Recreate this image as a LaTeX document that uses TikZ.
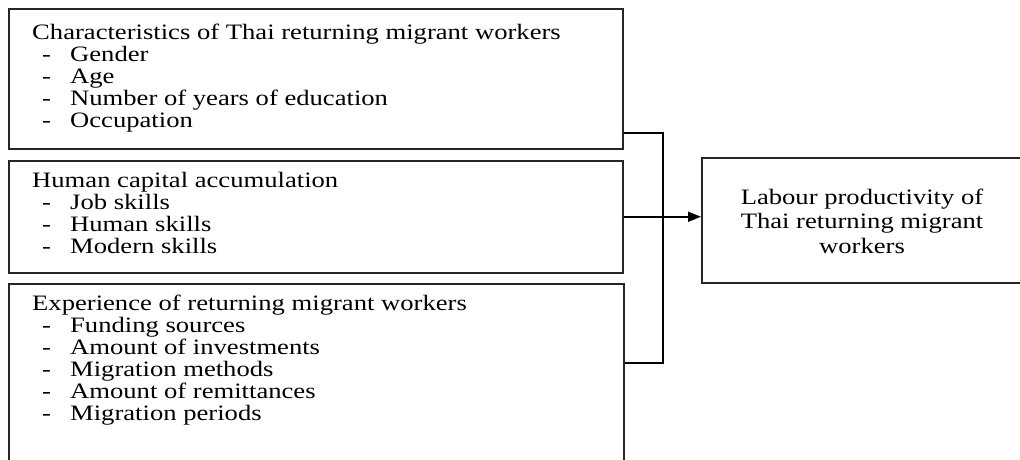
\documentclass[tikz,border=0pt]{standalone}
\usepackage{fontspec}
\setmainfont{Liberation Serif}
\usetikzlibrary{arrows.meta}
\newcommand{\sx}{1.21}
\newcommand{\itm}[1]{\makebox[31.4pt][l]{\hspace*{8.3pt}-}#1}
\tikzset{
  box/.style={draw=black!85, line width=1.5pt, inner sep=0pt, anchor=north west},
  txt/.style={inner sep=0pt, anchor=base west, font=\fontsize{22}{22}\selectfont},
  conn/.style={draw=black, line width=1.6pt},
}
\begin{document}
\begin{tikzpicture}[x=1pt,y=-1pt]
\path[use as bounding box, clip] (0,0) rectangle (1020,459);
\fill[white] (0,0) rectangle (1020,459);
% boxes
\node[box, minimum width=614pt, minimum height=140pt] (b1) at (8,8) {};
\node[box, minimum width=614pt, minimum height=112pt] (b2) at (8,160) {};
\node[box, minimum width=615pt, minimum height=200pt] (b3) at (8,283) {};
\node[box, minimum width=340pt, minimum height=125pt] (b4) at (701,157) {};
% texts
\node[txt] (t1) at (32,39) {\scalebox{\sx}[1]{\begin{tabular}[t]{@{}l@{}}
Characteristics of Thai returning migrant workers\\
\itm{Gender}\\ \itm{Age}\\ \itm{Number of years of education}\\ \itm{Occupation}
\end{tabular}}};
\node[txt] (t2) at (32,187) {\scalebox{\sx}[1]{\begin{tabular}[t]{@{}l@{}}
Human capital accumulation\\
\itm{Job skills}\\ \itm{Human skills}\\ \itm{Modern skills}
\end{tabular}}};
\node[txt] (t3) at (32,310) {\scalebox{\sx}[1]{\begin{tabular}[t]{@{}l@{}}
Experience of returning migrant workers\\
\itm{Funding sources}\\ \itm{Amount of investments}\\ \itm{Migration methods}\\ \itm{Amount of remittances}\\ \itm{Migration periods}
\end{tabular}}};
\node[inner sep=0pt, anchor=base, font=\fontsize{22}{24.5}\selectfont] (t4) at (862,204) {\scalebox{\sx}[1]{\begin{tabular}[t]{@{}c@{}}
Labour productivity of\\ Thai returning migrant\\ workers
\end{tabular}}};
% connectors
\coordinate (j) at (663,217);
\draw[conn] ([yshift=-54pt]b1.east) -| (j);
\draw[conn] ([yshift=-80pt]b3.north east) -| (j);
\draw[conn, -{Triangle[length=13pt,width=10pt]}] (b2.east) -- (b4.west |- b2.east);
\end{tikzpicture}
\end{document}
